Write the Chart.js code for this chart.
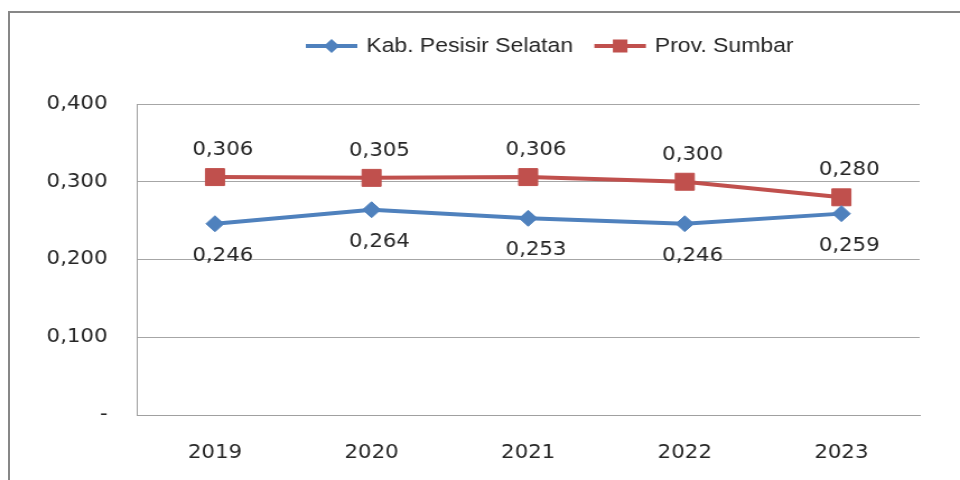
<!DOCTYPE html>
<html>
<head>
<meta charset="utf-8">
<script src="https://cdn.jsdelivr.net/npm/chart.js@4/dist/chart.umd.min.js"></script>
<style>
  html, body { margin:0; padding:0; background:#fff; overflow:hidden; }
  #wrap { position:relative; width:960px; height:480px; overflow:hidden; }
  #frame { position:absolute; left:8px; top:11px; width:1000px; height:600px; border:2px solid #878787; box-sizing:border-box; }
  #c { position:absolute; left:0; top:0; transform:scaleX(1.1202); transform-origin:0 0; }
</style>
</head>
<body>
<div id="wrap">
  <div id="frame"></div>
  <canvas id="c" width="857" height="480"></canvas>
</div>
<script>
// ---------- data ----------
const years = ['2019', '2020', '2021', '2022', '2023'];
const kabPesisirSelatan = [0.246, 0.264, 0.253, 0.246, 0.259];
const provSumbar = [0.306, 0.305, 0.306, 0.300, 0.280];
const seriesNames = ['Kab. Pesisir Selatan', 'Prov. Sumbar'];
const yMin = 0, yMax = 0.4, yStep = 0.1;

const BLUE = '#4F81BD';
const RED = '#C0504D';
const TXT = '#262626';
const fmt = (v) => v === 0 ? '-' : v.toFixed(3).replace('.', ',');

// value labels: red above, blue below
const valueLabels = {
  id: 'valueLabels',
  afterDatasetsDraw(chart) {
    const ctx = chart.ctx;
    ctx.save();
    ctx.font = '19px "DejaVu Sans"';
    ctx.fillStyle = TXT;
    ctx.textAlign = 'center';
    ctx.textBaseline = 'middle';
    chart.data.datasets.forEach((ds, i) => {
      const meta = chart.getDatasetMeta(i);
      const dy = i === 0 ? 32 : -27;
      meta.data.forEach((pt, j) => {
        ctx.fillText(fmt(ds.data[j]), pt.x + 7, pt.y + dy);
      });
    });
    ctx.restore();
  }
};

// line + marker legend like the spreadsheet one
const lineLegend = {
  id: 'lineLegend',
  afterDraw(chart) {
    const ctx = chart.ctx;
    const y = 46;
    let x = 273;
    ctx.save();
    ctx.font = '20.5px "Liberation Sans"';
    ctx.textBaseline = 'middle';
    chart.data.datasets.forEach((ds, i) => {
      ctx.strokeStyle = ds.borderColor;
      ctx.lineWidth = 4;
      ctx.beginPath(); ctx.moveTo(x, y); ctx.lineTo(x + 46, y); ctx.stroke();
      ctx.fillStyle = ds.borderColor;
      const cx = x + 23;
      if (ds.pointStyle === 'rectRot') {
        ctx.beginPath();
        ctx.moveTo(cx - 7, y); ctx.lineTo(cx, y - 7); ctx.lineTo(cx + 7, y); ctx.lineTo(cx, y + 7);
        ctx.closePath(); ctx.fill();
      } else {
        ctx.fillRect(cx - 6.5, y - 6.5, 13, 13);
      }
      ctx.fillStyle = TXT;
      ctx.fillText(ds.label, x + 54, y);
      x += 54 + ctx.measureText(ds.label).width + 19;
    });
    ctx.restore();
  }
};

new Chart(document.getElementById('c'), {
  type: 'line',
  data: {
    labels: years,
    datasets: [
      { label: seriesNames[0], data: kabPesisirSelatan, borderColor: BLUE, backgroundColor: BLUE,
        borderWidth: 4, pointStyle: 'rectRot', pointRadius: 8, pointBorderWidth: 1,
        pointBackgroundColor: BLUE, pointBorderColor: BLUE, tension: 0 },
      { label: seriesNames[1], data: provSumbar, borderColor: RED, backgroundColor: RED,
        borderWidth: 4, pointStyle: 'rect', pointRadius: 12, pointBorderWidth: 1,
        pointBackgroundColor: RED, pointBorderColor: RED, tension: 0 }
    ]
  },
  options: {
    responsive: false,
    animation: false,
    layout: { padding: { top: 104, right: 36, bottom: 0, left: 0 } },
    plugins: { legend: { display: false }, tooltip: { enabled: false }, title: { display: false } },
    scales: {
      x: {
        offset: true,
        grid: { display: false, drawTicks: false },
        border: { display: true, color: '#a0a0a0', width: 1 },
        ticks: { color: TXT, font: { family: 'DejaVu Sans', size: 19 }, padding: 27, maxRotation: 0 },
        afterFit: (s) => { s.height = 65; }
      },
      y: {
        min: yMin, max: yMax,
        grid: { color: '#a6a6a6', drawTicks: false },
        border: { display: true, color: '#a0a0a0', width: 1 },
        ticks: { stepSize: yStep, color: TXT, font: { family: 'DejaVu Sans', size: 19 }, padding: 26,
                 callback: (v) => fmt(v) },
        afterFit: (s) => { s.width = 122; }
      }
    }
  },
  plugins: [valueLabels, lineLegend]
});
</script>
</body>
</html>
